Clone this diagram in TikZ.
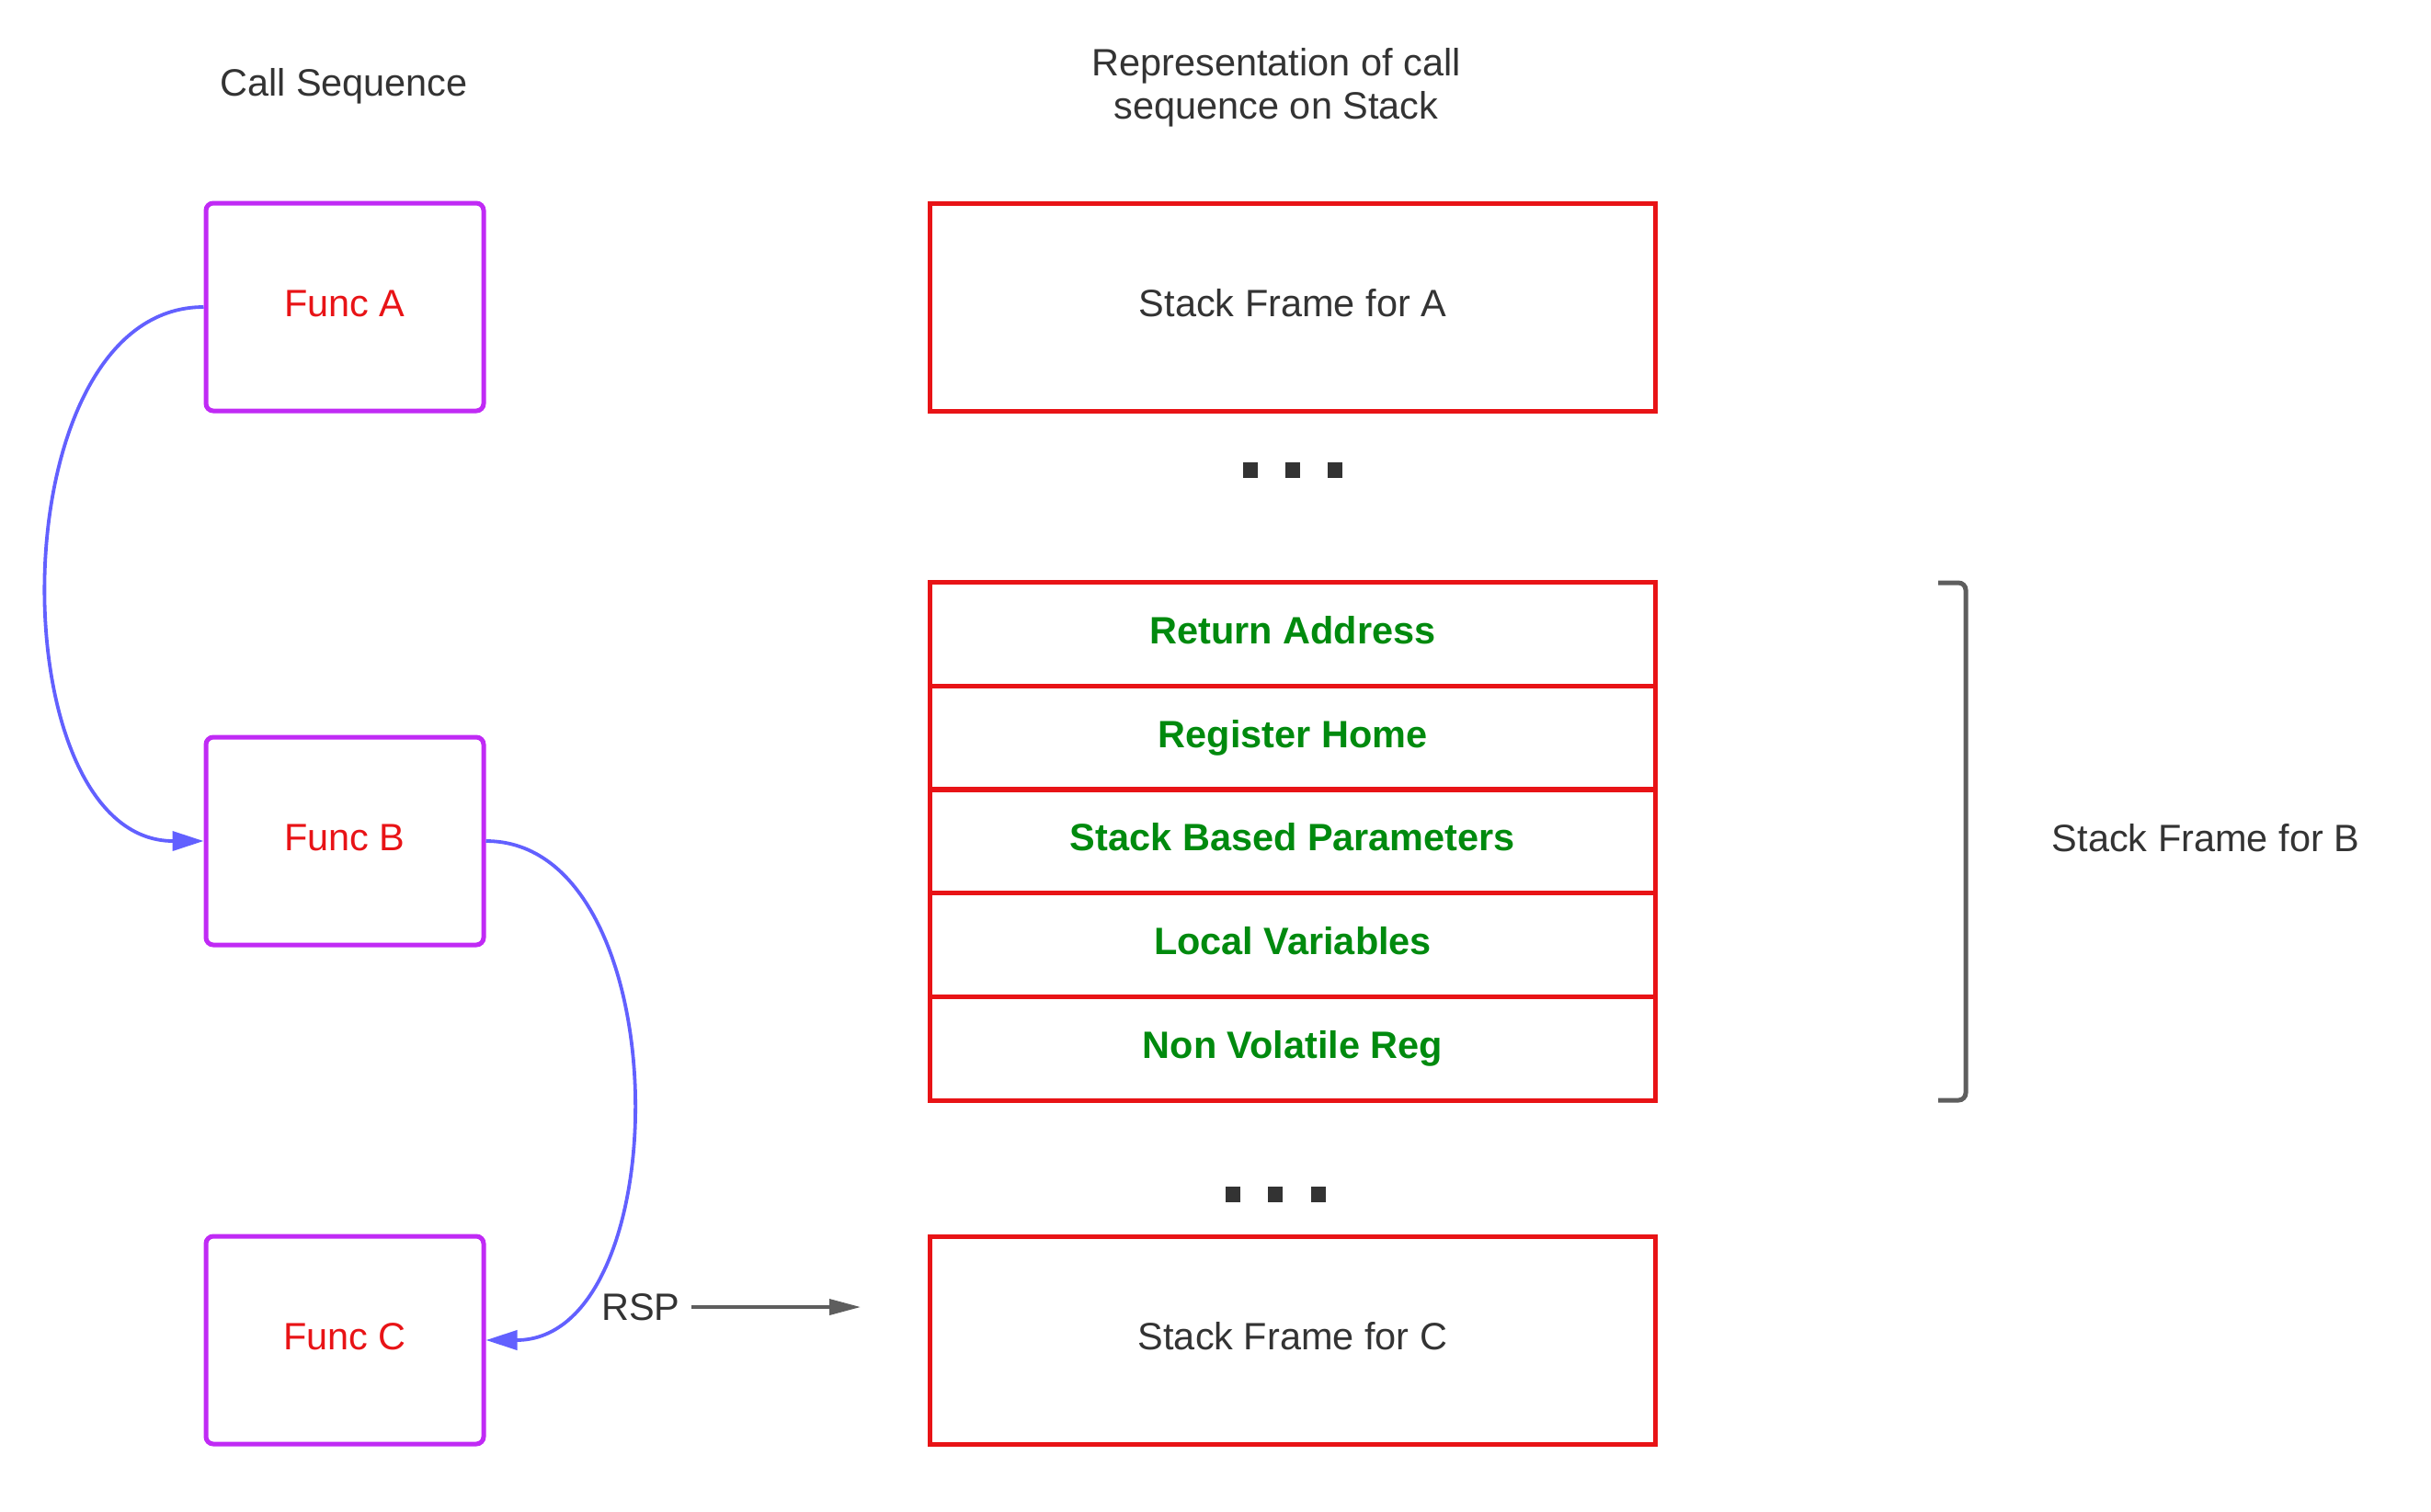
\documentclass[tikz,border=0pt]{standalone}
\usepackage{fontspec}
\setmainfont{Liberation Sans}
\usetikzlibrary{arrows.meta}
\definecolor{purplec}{RGB}{192,42,245}
\definecolor{redc}{RGB}{232,19,22}
\definecolor{greenc}{RGB}{0,138,14}
\definecolor{bluec}{RGB}{98,96,255}
\definecolor{grayt}{RGB}{51,51,51}
\definecolor{grayl}{RGB}{94,94,94}
\tikzset{
  txt/.style={font=\fontsize{11.8pt}{13.4pt}\selectfont, text=grayt, inner sep=0pt},
  boxtext/.style={text height=0.30cm, text depth=0.10cm},
  funcbox/.style={boxtext, draw=purplec, line width=0.05cm, rounded corners=0.08cm,
    minimum width=3.02cm, minimum height=2.26cm, text=redc,
    font=\fontsize{11.8pt}{13.4pt}\selectfont},
  framebox/.style={boxtext, draw=redc, line width=0.05cm, minimum width=7.89cm,
    minimum height=2.26cm, text=grayt, font=\fontsize{11.8pt}{13.4pt}\selectfont},
  rowbox/.style={boxtext, draw=redc, line width=0.05cm, minimum width=7.89cm,
    minimum height=1.126cm, text=greenc, font=\fontsize{11.8pt}{13.4pt}\selectfont\bfseries},
  dotsq/.style={fill=grayt, minimum width=0.16cm, minimum height=0.17cm, inner sep=0pt},
  callarrow/.style={draw=bluec, line width=0.038cm, -{Triangle[length=0.34cm,width=0.21cm]}},
  rsparrow/.style={draw=grayl, line width=0.035cm, -{Triangle[length=0.34cm,width=0.17cm]}},
  bracketline/.style={draw=grayl, line width=0.05cm, rounded corners=0.08cm}
}
\begin{document}
\begin{tikzpicture}
\useasboundingbox (0,0) rectangle (26.44,-16.44);
% titles
\node[txt] (t1) at (3.74,-0.94) {Call Sequence};
\node[txt, align=center] (t2) at (13.88,-0.95) {Representation of call\\sequence on Stack};
% function boxes
\node[funcbox] (fa) at (3.75,-3.34) {Func A};
\node[funcbox] (fb) at (3.75,-9.15) {Func B};
\node[funcbox] (fc) at (3.75,-14.58) {Func C};
% stack frames
\node[framebox] (sa) at (14.06,-3.34) {Stack Frame for A};
\node[rowbox] (r1) at (14.06,-6.90) {Return Address};
\node[rowbox] (r2) at (14.06,-8.03) {Register Home};
\node[rowbox] (r3) at (14.06,-9.15) {Stack Based Parameters};
\node[rowbox] (r4) at (14.06,-10.28) {Local Variables};
\node[rowbox] (r5) at (14.06,-11.41) {Non Volatile Reg};
\node[framebox] (sc) at (14.06,-14.58) {Stack Frame for C};
% dots
\node[dotsq] (d1) at (13.60,-5.11) {};
\node[dotsq] (d2) at (14.06,-5.11) {};
\node[dotsq] (d3) at (14.52,-5.11) {};
\node[dotsq] (e1) at (13.41,-12.99) {};
\node[dotsq] (e2) at (13.87,-12.99) {};
\node[dotsq] (e3) at (14.34,-12.99) {};
% bracket
\draw[bracketline] (21.08,-6.34) -- (21.38,-6.34) -- (21.38,-11.97) -- (21.08,-11.97);
\node[txt] (sfb) at (23.99,-9.12) {Stack Frame for B};
% call arrows
\draw[callarrow] (fa.west) .. controls +(-2.25,0) and +(-2.25,0) .. (fb.west);
\draw[callarrow] (fb.east) .. controls +(2.11,0) and +(2.11,0) .. (fc.east);
% RSP
\node[txt, inner xsep=0.12cm] (rsp) at (6.97,-14.22) {RSP};
\coordinate (rspend) at (9.36,-14.22);
\draw[rsparrow] (rsp.east) -- (rspend);
\end{tikzpicture}
\end{document}
